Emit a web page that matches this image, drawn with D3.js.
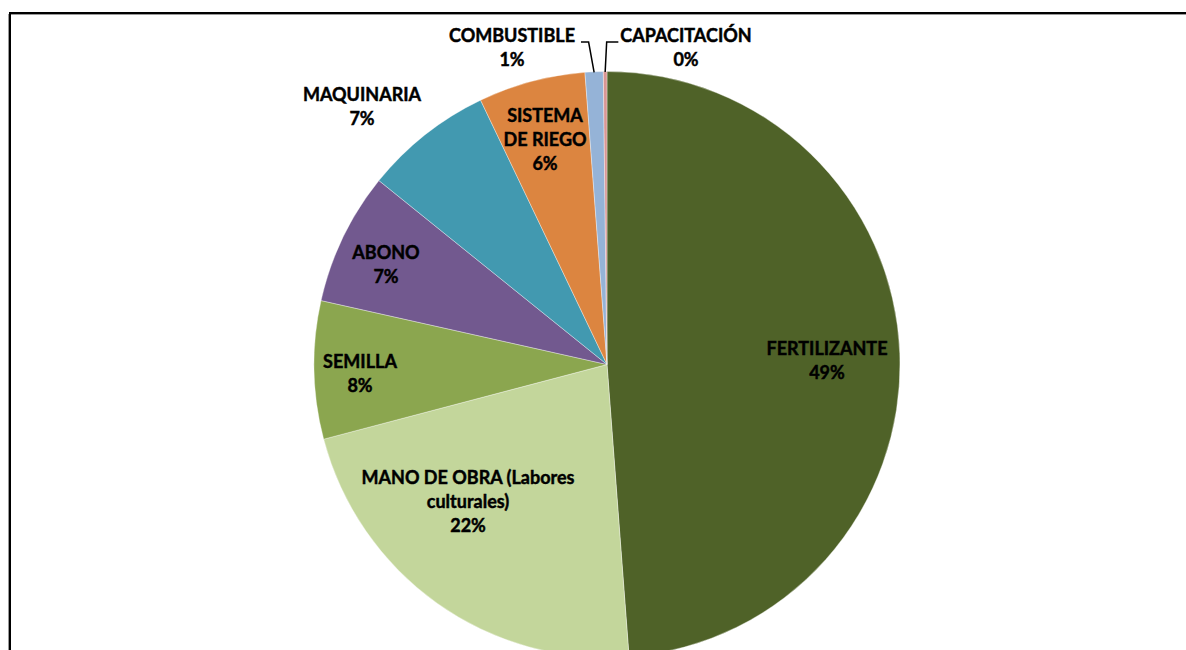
<!DOCTYPE html>
<html>
<head>
<meta charset="utf-8">
<script src="https://cdn.jsdelivr.net/npm/d3@7"></script>
<style>
  html, body { margin: 0; padding: 0; background: #fff; }
  svg { display: block; }
</style>
</head>
<body>
<script>
(function (d3) {
    "use strict";

    /***** Données *****/
    var categories = ["FERTILIZANTE", "MANO DE OBRA (Labores\nculturales)", "SEMILLA", "ABONO",
                      "MAQUINARIA", "SISTEMA\nDE RIEGO", "COMBUSTIBLE", "CAPACITACIÓN"];
    var values = [48.8, 22.1, 7.6, 7.3, 7.1, 5.9, 1.0, 0.2];

    /***** Style *****/
    var colors = ["#4f6228", "#c3d69b", "#8ba64f", "#72598f", "#4299b0", "#dc8540", "#95b3d7", "#d99694"];
    // position of each label (centre of first line, baseline) relative to the pie centre
    var labelOffsets = [[220, -10], [-139, 119], [-247, 3], [-221, -106],
                        [-245, -264], [-62, -243], [-95, -323], [79, -323]];

    var width = 1186, height = 650;
    var center = { x: 607, y: 364.5 };
    var radius = 293;
    var lineHeight = 24;

    var svg = d3.select("body")
        .append("svg")
        .attr("width", width)
        .attr("height", height);

    /***** Cadre *****/
    svg.append("rect")
        .attr("x", 8.5).attr("y", 14.5)
        .attr("width", 1300).attr("height", 800)
        .attr("fill", "none").attr("stroke", "#999").attr("stroke-width", 1);
    svg.append("rect")
        .attr("x", 10).attr("y", 13)
        .attr("width", 1300).attr("height", 800)
        .attr("fill", "none").attr("stroke", "#000").attr("stroke-width", 2);

    var g = svg.append("g")
        .attr("transform", "translate(" + center.x + "," + center.y + ")");

    var pie = d3.pie().sort(null).value(function (d) { return d; });
    var arcs = pie(values);
    var total = d3.sum(values);
    var pct = d3.format(".0%");

    var arc = d3.arc().innerRadius(0).outerRadius(radius);
    var edgeArc = d3.arc().innerRadius(radius).outerRadius(radius);

    g.selectAll("path.slice")
        .data(arcs)
        .enter().append("path")
        .attr("class", "slice")
        .attr("d", arc)
        .attr("fill", function (d, i) { return colors[i]; })
        .attr("stroke", "#ffffff")
        .attr("stroke-opacity", 0.5)
        .attr("stroke-width", 0.7);

    /***** Étiquettes *****/
    var labels = g.selectAll("text.label")
        .data(arcs)
        .enter().append("text")
        .attr("class", "label")
        .attr("text-anchor", "middle")
        .attr("font-family", "Lato, 'Open Sans', sans-serif")
        .attr("font-weight", "bold")
        .attr("font-size", 18)
        .attr("fill", "#000")
        .attr("stroke", "#000")
        .attr("stroke-width", 0.45);

    labels.each(function (d, i) {
        var t = d3.select(this);
        var lines = categories[i].split("\n").concat([pct(values[i] / total)]);
        lines.forEach(function (line, j) {
            t.append("tspan")
                .attr("x", labelOffsets[i][0])
                .attr("y", labelOffsets[i][1] + j * lineHeight)
                .text(line);
        });
    });

    /***** Lignes de rappel (petits secteurs) *****/
    labels.each(function (d, i) {
        if (d.endAngle - d.startAngle > 0.1) return;
        var off = labelOffsets[i];
        var w = this.querySelector("tspan").getComputedTextLength();
        var edge = edgeArc.centroid(d);
        var left = off[0] < edge[0];
        var y0 = off[1] + 0.6;
        var x0 = left ? off[0] + w / 2 + 6 : off[0] - w / 2 - 2;
        var xe = left ? edge[0] - 5.5 : edge[0] + 1.5;
        g.append("path")
            .attr("d", "M" + x0 + "," + y0 + "H" + xe + "L" + edge[0] + "," + (edge[1] + 0.5))
            .attr("fill", "none")
            .attr("stroke", "#000")
            .attr("stroke-width", 1.5);
    });

})(d3);
</script>
</body>
</html>
